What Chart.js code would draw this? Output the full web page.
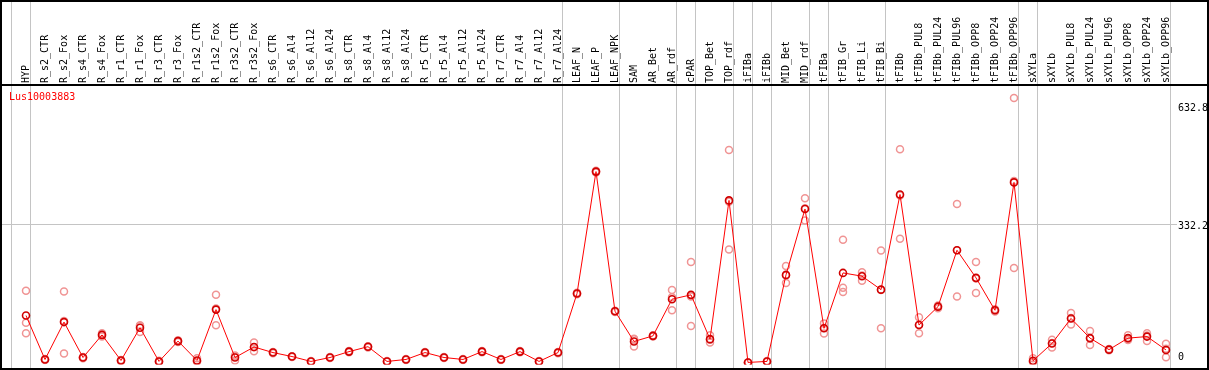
<!DOCTYPE html>
<html><head><meta charset="utf-8">
<script src="https://cdn.jsdelivr.net/npm/chart.js@4.4.1/dist/chart.umd.min.js"></script>
<style>html,body{margin:0;padding:0;background:#fff;}canvas{display:block;}</style>
</head><body>
<canvas id="c" width="1209" height="370"></canvas>
<script>
const categories = ['HYP','R_s2_CTR','R_s2_Fox','R_s4_CTR','R_s4_Fox','R_r1_CTR','R_r1_Fox','R_r3_CTR','R_r3_Fox',
  'R_r1s2_CTR','R_r1s2_Fox','R_r3s2_CTR','R_r3s2_Fox','R_s6_CTR','R_s6_Al4','R_s6_Al12','R_s6_Al24',
  'R_s8_CTR','R_s8_Al4','R_s8_Al12','R_s8_Al24','R_r5_CTR','R_r5_Al4','R_r5_Al12','R_r5_Al24',
  'R_r7_CTR','R_r7_Al4','R_r7_Al12','R_r7_Al24','LEAF_N','LEAF_P','LEAF_NPK','SAM','AR_Bet','AR_rdf',
  'cPAR','TOP_Bet','TOP_rdf','iFIBa','iFIBb','MID_Bet','MID_rdf','tFIBa','tFIB_Gr','tFIB_Li','tFIB_Bi',
  'tFIBb','tFIBb_PUL8','tFIBb_PUL24','tFIBb_PUL96','tFIBb_OPP8','tFIBb_OPP24','tFIBb_OPP96',
  'sXYLa','sXYLb','sXYLb_PUL8','sXYLb_PUL24','sXYLb_PUL96','sXYLb_OPP8','sXYLb_OPP24','sXYLb_OPP96'];

const meanValues = [112.3,7.1,96.6,11.8,65.9,4.7,83.1,2.4,51.1,4.7,126.5,11.8,37.0,23.6,14.1,2.4,11.8,
  25.9,37.7,2.4,7.1,23.6,11.8,7.1,25.9,7.1,25.9,2.4,23.6,164.9,456.9,122.5,50.2,63.6,151.4,
  161.8,55.8,387.9,0,2.4,209.6,367.4,81.7,214.3,206.5,174.3,402.0,89.5,133.5,268.5,202.5,124.8,431.0,
  4.0,45.5,105.3,58.2,30.6,58.2,61.9,29.9];

const rep1 = [171.9,6,169.6,10,62,3,87.1,1,49,10.1,161.8,4.7,47.8,22,13,1.5,10.5,
  24.5,36,1.5,6,22,10.5,6,24.5,6,24.5,1.5,22,163,455,121,55.8,62,173.6,
  240.2,65.2,508.7,0,1.5,230.8,393.3,93.5,293.7,216,267.8,510.3,108.3,130,379.2,240.2,122,632.8,
  10.1,54.2,118.5,75.4,29,65.2,69.9,44.7];
const rep2 = [94.9,7,21.2,12,66,5,73.0,2,51,2,88.8,14,26.6,24,14,2.4,12,
  26,38,2.4,7,24,12,7,26,7,26,2.4,24,165,457,122.5,38.4,64,124.8,
  87.1,47.8,270.1,0,2.4,190.0,339.8,69.0,179.0,195.5,81.7,296.0,69.9,134,157.8,166.5,125,226.1,
  1,36.0,91.1,41.7,31,55.8,51.1,12.5];
const rep3 = [69.9,8,99.0,13,70,6,89.2,4,53,2,128.9,16.7,36.6,25,15,3.3,13,
  27.2,39,3.3,8.3,25,13,8.3,27.2,8.3,27.2,3.3,25,166.7,458.7,124,56.4,64.8,155.8,
  158.1,54.4,384.9,0,3.3,208.0,369.1,82.6,168.9,208,173.4,399.7,90.3,136.5,268.5,200.8,127.4,434.1,
  1,46.3,106.3,57.5,32,53.6,64.7,32.5];

const groupBreaks = [-1,0,28,31,34,35,37,38,39,41,42,45,52,53,60];
const yTickValues = [632.8, 332.2, 0];
const yTickLabels = ['632.8', '332.2', '0'];
const gridValue = 332.2;
const geneName = 'Lus10003883';

const MONO = '"DejaVu Sans Mono", "Liberation Mono", monospace';
const labelOffsets = [10.7, 3, -5.3];

const decor = {
  id: 'decor',
  beforeDatasetsDraw(chart) {
    const {ctx, scales: {x, y}} = chart;
    ctx.save();
    ctx.strokeStyle = '#c4c4c4';
    ctx.lineWidth = 1;
    groupBreaks.forEach(i => {
      const px = Math.round(x.getPixelForValue(i + 0.23)) + 0.5;
      ctx.beginPath(); ctx.moveTo(px, 0); ctx.lineTo(px, 369); ctx.stroke();
    });
    const gy = Math.round(y.getPixelForValue(gridValue)) + 0.5;
    ctx.beginPath(); ctx.moveTo(1, gy); ctx.lineTo(1177, gy); ctx.stroke();
    ctx.restore();
  },
  afterDatasetsDraw(chart) {
    const {ctx, scales: {y}} = chart;
    ctx.save();
    ctx.fillStyle = '#000';
    ctx.fillRect(0, 0, 1209, 2);
    ctx.fillRect(0, 84, 1209, 2);
    ctx.fillRect(0, 368, 1209, 2);
    ctx.fillRect(0, 0, 2, 370);
    ctx.fillRect(1207, 0, 2, 370);
    ctx.font = '10px ' + MONO;
    ctx.textBaseline = 'middle';
    ctx.textAlign = 'left';
    yTickValues.forEach((v, k) => {
      ctx.fillText(yTickLabels[k], 1178, y.getPixelForValue(v) + labelOffsets[k]);
    });
    ctx.fillStyle = '#ff0000';
    ctx.textBaseline = 'top';
    ctx.fillText(geneName, 9, 92);
    ctx.restore();
  }
};

const repStyle = {
  type: 'line', showLine: false,
  pointRadius: 3.5, pointBorderWidth: 1.5,
  pointBorderColor: '#f09494', pointBackgroundColor: 'rgba(0,0,0,0)',
  pointHoverRadius: 3.5
};

new Chart(document.getElementById('c'), {
  type: 'line',
  data: {
    labels: categories,
    datasets: [
      { data: meanValues, borderColor: '#ff0000', borderWidth: 1, pointRadius: 3.5, pointBorderWidth: 1.6,
        pointBorderColor: '#d00000', pointBackgroundColor: 'rgba(0,0,0,0)', tension: 0, order: 0 },
      Object.assign({ data: rep1, order: 1 }, repStyle),
      Object.assign({ data: rep2, order: 2 }, repStyle),
      Object.assign({ data: rep3, order: 3 }, repStyle)
    ]
  },
  options: {
    responsive: false, animation: false, devicePixelRatio: 1,
    layout: { padding: { left: 26, right: 43, top: 0, bottom: 1 } },
    plugins: { legend: { display: false }, tooltip: { enabled: false }, title: { display: false } },
    scales: {
      x: {
        type: 'category', position: 'top', offset: false,
        grid: { display: false, drawTicks: false }, border: { display: false },
        ticks: { autoSkip: false, minRotation: 90, maxRotation: 90, padding: 3, labelOffset: 12, color: '#000',
                 font: { family: MONO, size: 10 } },
        afterFit(scale) { scale.height = 86; }
      },
      y: { type: 'linear', display: false, min: -4.71, max: 661.8 }
    }
  },
  plugins: [decor]
});
</script>
</body></html>
